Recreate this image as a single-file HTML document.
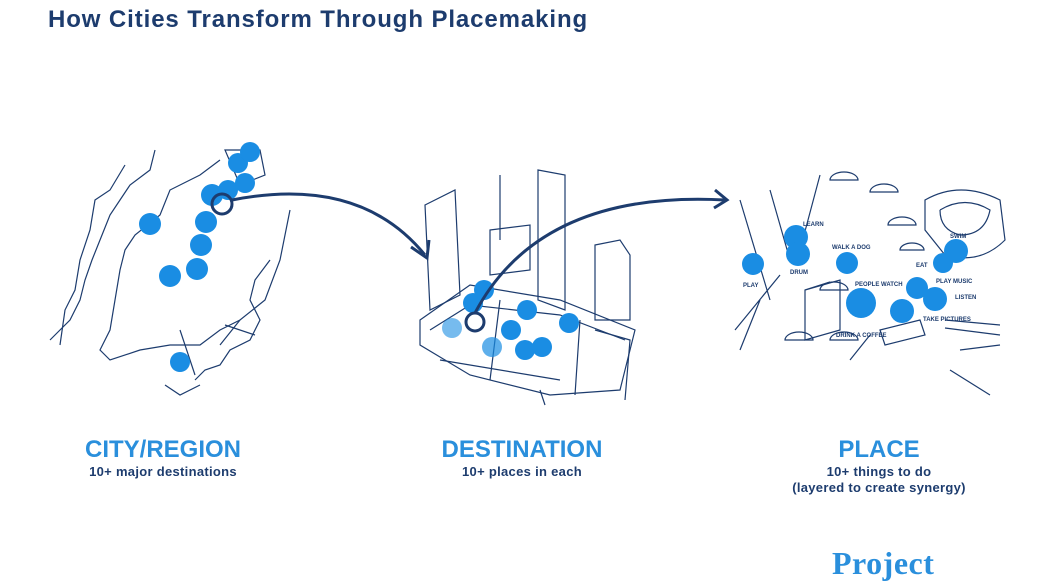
<!DOCTYPE html>
<html><head><meta charset="utf-8"><style>
body{margin:0;background:#fff;width:1044px;height:587px;overflow:hidden;font-family:"Liberation Sans",sans-serif}
svg{position:absolute;left:0;top:0}
.t{position:absolute;left:48px;top:6px;font-size:24px;font-weight:bold;color:#1d3c6e;letter-spacing:0.9px}
.h{position:absolute;font-size:24px;font-weight:bold;color:#2a8fdc;text-align:center}
.s{position:absolute;font-size:13px;font-weight:bold;color:#1d3c6e;text-align:center;line-height:16px;letter-spacing:0.3px}
.p{position:absolute;left:832px;top:545px;font-family:"Liberation Serif",serif;font-size:32px;font-weight:bold;color:#2a8fdc;letter-spacing:0.5px}
</style></head><body>
<svg width="1044" height="587" viewBox="0 0 1044 587">
<g fill="none" stroke="#1d3c6e" stroke-width="1.2">
<path d="M155 150 L150 170 L130 185 L120 200 L110 215 L100 240 L92 260 L85 280 L80 300 L70 320 L60 330 L50 340"/>
<path d="M125 165 L110 190 L95 200 L90 230 L80 260 L75 290 L65 310 L60 345"/>
<path d="M220 160 L200 175 L190 180 L170 190 L160 215 L135 235 L125 250 L120 270 L115 300 L110 330 L100 350 L110 360 L140 350 L170 345 L200 345 L220 330 L240 320 L265 300 L280 260 L290 210"/>
<path d="M270 260 L255 280 L250 300 L260 320 L250 340 L230 350 L220 365 L205 370 L195 380"/>
<path d="M180 330 L195 375 M225 325 L255 335 M240 320 L220 345"/>
<path d="M165 385 L180 395 L200 385"/>
<path d="M225 150 L260 150 L265 175 L240 185 Z"/>
<path d="M425 205 L455 190 L460 295 L430 310 Z M455 190 L460 295"/>
<path d="M500 175 L500 240 M538 170 L565 175 L565 310 L538 300 Z"/>
<path d="M490 230 L530 225 L530 270 L490 275 Z"/>
<path d="M595 245 L620 240 L630 255 L630 320 L595 320 Z"/>
<path d="M420 320 L470 285 L560 300 L635 330 L620 390 L550 395 L470 375 L420 345 Z"/>
<path d="M430 330 L470 305 L560 315 L625 340 M440 360 L560 380 M500 300 L490 380 M580 320 L575 395"/>
<path d="M595 330 L630 340 L625 400 M540 390 L545 405"/>
<path d="M770 190 L790 260 M820 175 L800 250 M740 200 L770 300 M780 275 L735 330 M760 300 L740 350"/>
<path d="M805 290 L840 280 L840 330 L805 340 Z M805 290 L830 282"/>
<path d="M925 200 Q960 180 1000 200 L1005 240 Q980 265 945 255 L925 230 Z"/>
<path d="M940 210 Q965 195 990 210 Q985 235 960 235 Q940 230 940 210"/>
<path d="M880 330 L920 320 L925 335 L885 345 Z M870 335 L850 360"/>
<path d="M945 320 L1000 325 M945 328 L1000 335 M960 350 L1000 345 M950 370 L990 395"/>
<path d="M785 340 a14 8 0 0 1 28 0 Z M830 340 a14 8 0 0 1 28 0 Z M830 180 a14 8 0 0 1 28 0 Z M870 192 a14 8 0 0 1 28 0 Z M888 225 a14 8 0 0 1 28 0 Z M820 290 a14 8 0 0 1 28 0 Z M900 250 a12 7 0 0 1 24 0 Z"/>
</g>
<g fill="#1a8de3">
<circle cx="150" cy="224" r="11"/><circle cx="206" cy="222" r="11"/><circle cx="201" cy="245" r="11"/>
<circle cx="197" cy="269" r="11"/><circle cx="170" cy="276" r="11"/><circle cx="212" cy="195" r="11"/>
<circle cx="228" cy="190" r="10"/><circle cx="245" cy="183" r="10"/><circle cx="238" cy="163" r="10"/>
<circle cx="250" cy="152" r="10"/><circle cx="180" cy="362" r="10"/>
<circle cx="484" cy="290" r="10"/><circle cx="473" cy="303" r="10"/><circle cx="452" cy="328" r="10" opacity=".6"/>
<circle cx="492" cy="347" r="10" opacity=".7"/><circle cx="511" cy="330" r="10"/><circle cx="527" cy="310" r="10"/>
<circle cx="569" cy="323" r="10"/><circle cx="525" cy="350" r="10"/><circle cx="542" cy="347" r="10"/>
<circle cx="796" cy="237" r="12"/><circle cx="798" cy="254" r="12"/><circle cx="753" cy="264" r="11"/>
<circle cx="847" cy="263" r="11"/><circle cx="861" cy="303" r="15"/><circle cx="956" cy="251" r="12"/>
<circle cx="943" cy="263" r="10"/><circle cx="917" cy="288" r="11"/><circle cx="935" cy="299" r="12"/>
<circle cx="902" cy="311" r="12"/>
</g>
<g fill="none" stroke="#1d3c6e" stroke-width="3">
<circle cx="222" cy="204" r="10"/>
<circle cx="475" cy="322" r="9"/>
<path d="M232 200 Q360 175 425 255"/>
<path d="M411 247 L427 258 L429 240"/>
<path d="M475 313 Q540 190 725 200"/>
<path d="M715 190 L727 200 L714 208"/>
</g>
<g font-family="Liberation Sans,sans-serif" font-size="6" font-weight="bold" fill="#1d3c6e">
<text x="803" y="226">LEARN</text><text x="832" y="249">WALK A DOG</text><text x="790" y="274">DRUM</text>
<text x="743" y="287">PLAY</text><text x="855" y="286">PEOPLE WATCH</text><text x="916" y="267">EAT</text>
<text x="950" y="238">SWIM</text><text x="936" y="283">PLAY MUSIC</text><text x="955" y="299">LISTEN</text>
<text x="923" y="321">TAKE PICTURES</text><text x="836" y="337">DRINK A COFFEE</text>
</g>
</svg>
<div class="t">How Cities Transform Through Placemaking</div>
<div class="h" style="left:63px;top:436px;width:200px">CITY/REGION</div>
<div class="s" style="left:63px;top:464px;width:200px">10+ major destinations</div>
<div class="h" style="left:422px;top:436px;width:200px">DESTINATION</div>
<div class="s" style="left:422px;top:464px;width:200px">10+ places in each</div>
<div class="h" style="left:779px;top:436px;width:200px">PLACE</div>
<div class="s" style="left:779px;top:464px;width:200px">10+ things to do<br>(layered to create synergy)</div>
<div class="p">Project</div>
</body></html>
